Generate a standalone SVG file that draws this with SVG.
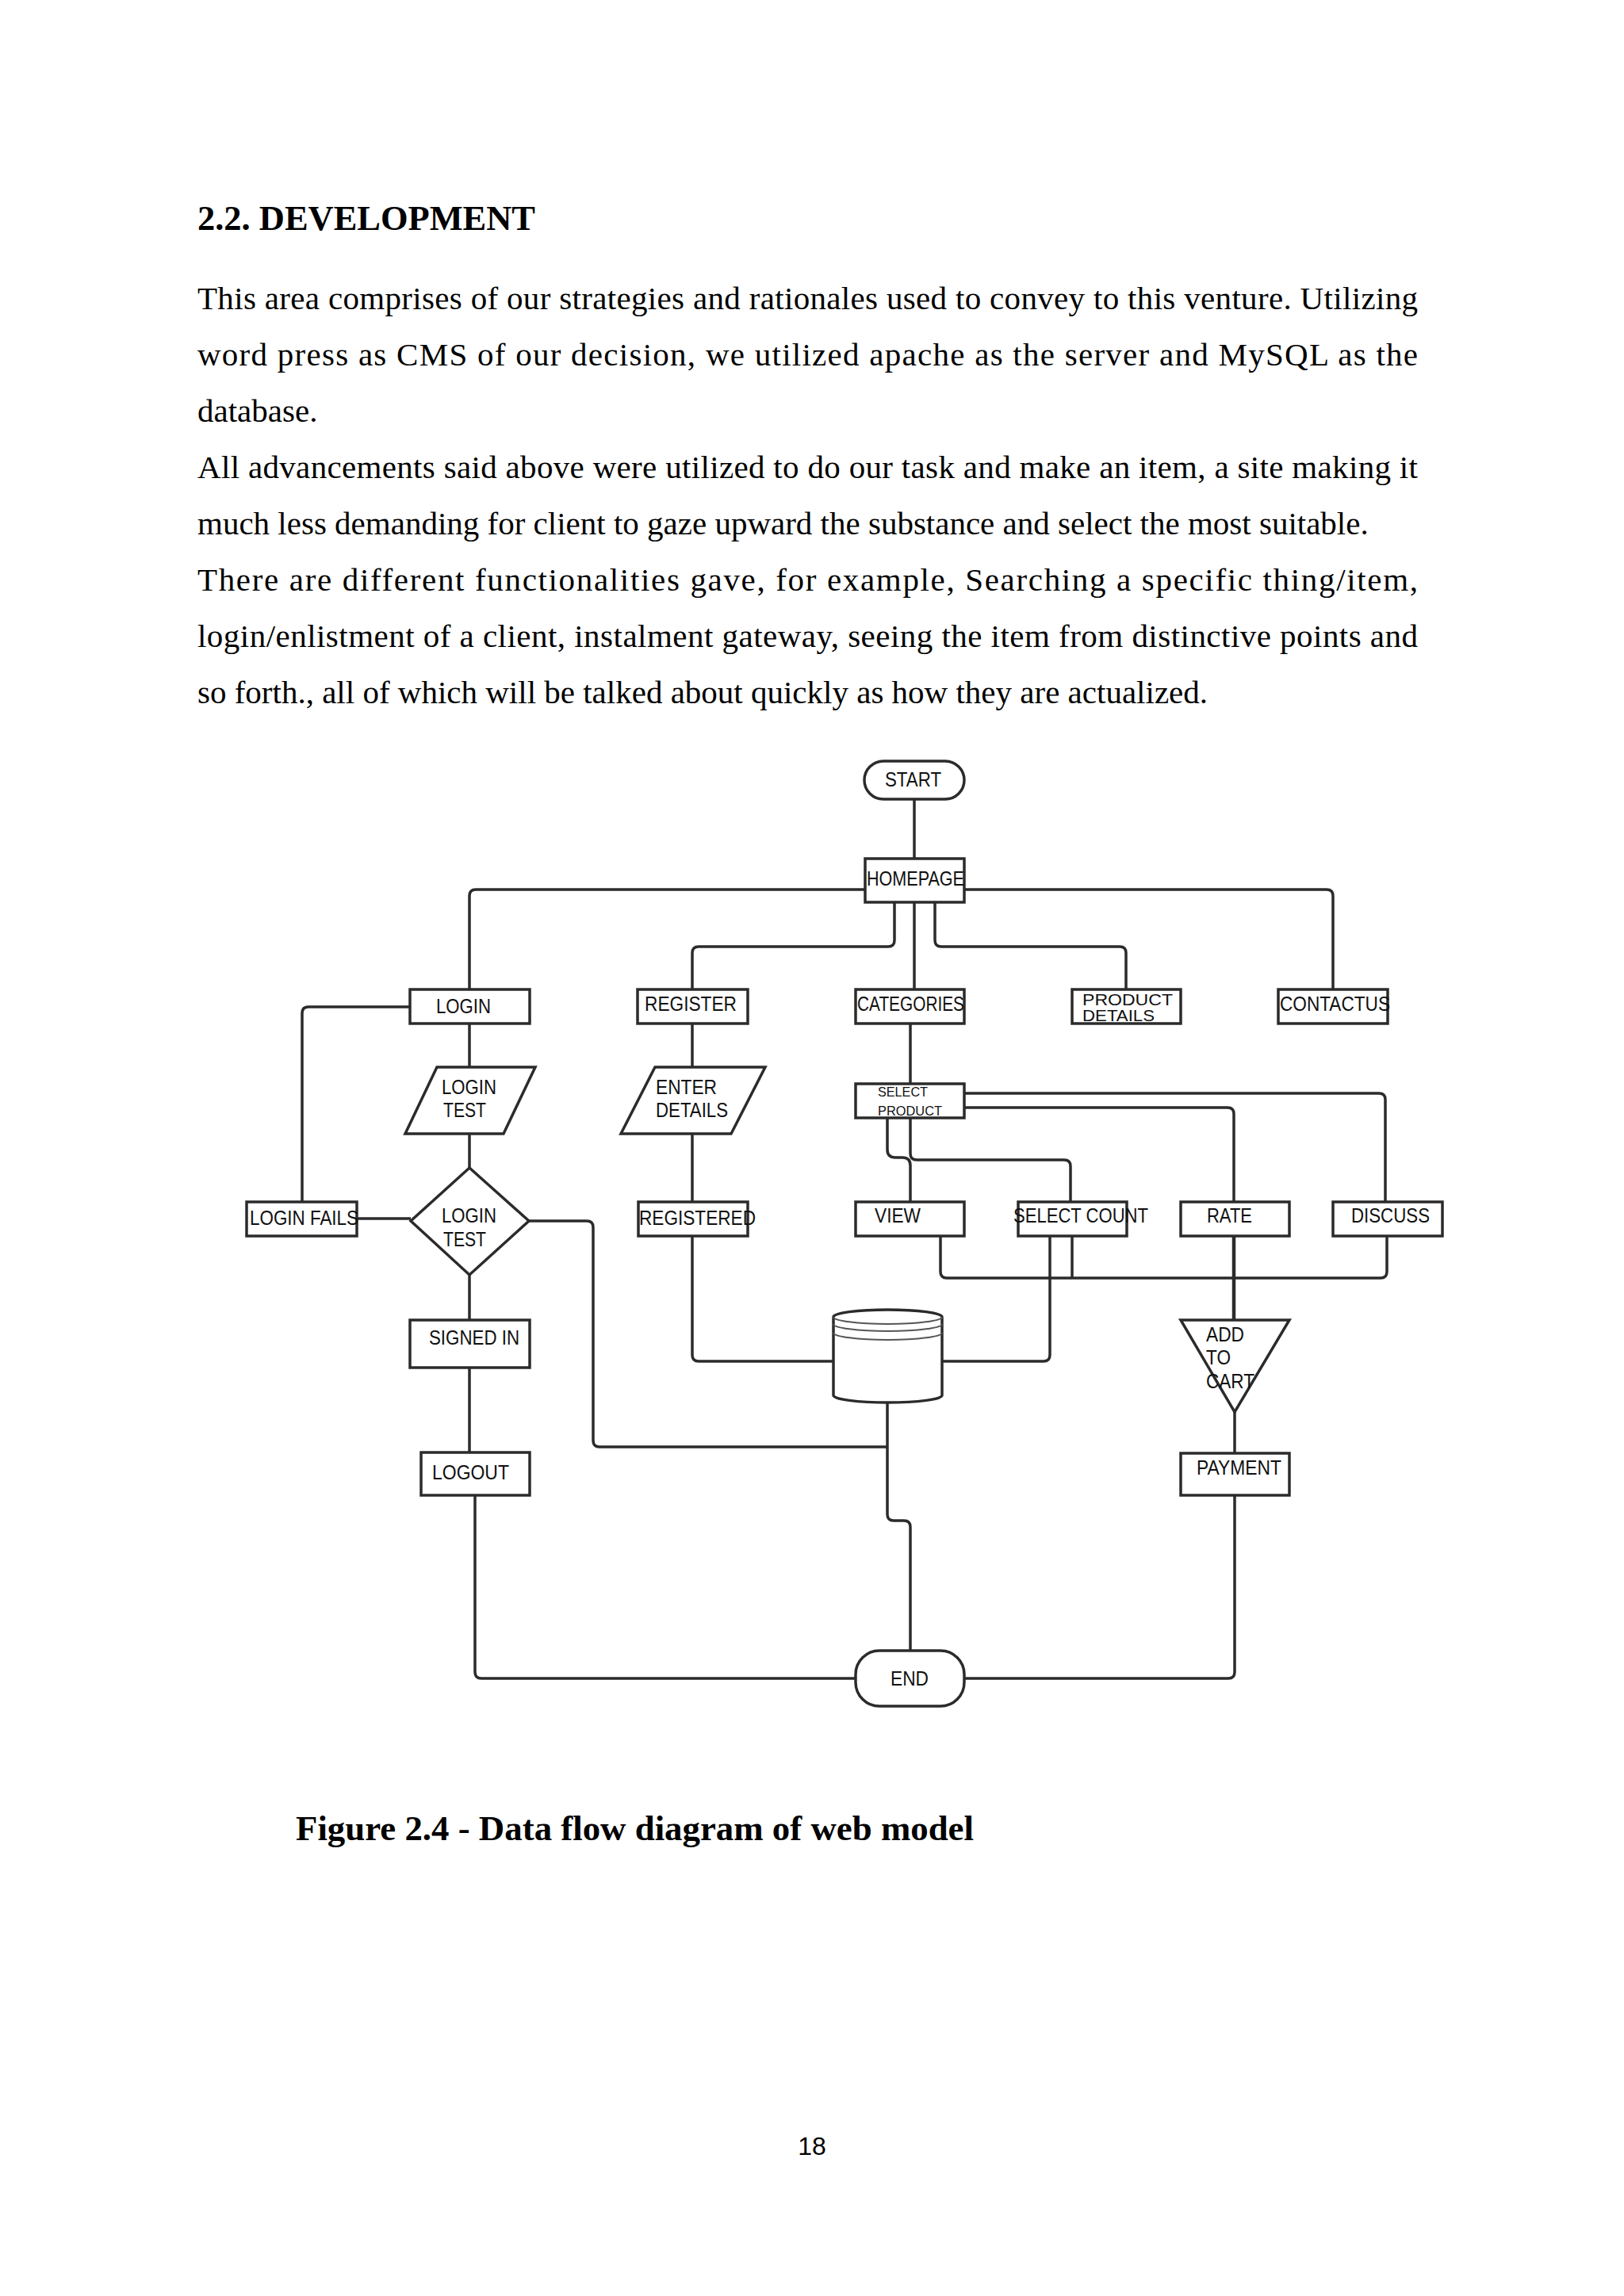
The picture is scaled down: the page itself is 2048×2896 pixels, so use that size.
<svg xmlns="http://www.w3.org/2000/svg" width="2048" height="2896" viewBox="0 0 2048 2896">
<style>
.body{font-family:"Liberation Serif","Times New Roman",serif;font-size:41px;fill:#000}
.head{font-family:"Liberation Serif","Times New Roman",serif;font-size:44.6px;font-weight:bold;fill:#000}
.pg{font-family:"Liberation Sans",Arial,sans-serif;font-size:32px;fill:#000}
.lbl{font-family:"Liberation Sans",Arial,sans-serif;font-size:25px;fill:#111}
.sm{font-family:"Liberation Sans",Arial,sans-serif;font-size:21px;fill:#111}
.xs{font-family:"Liberation Sans",Arial,sans-serif;font-size:17px;fill:#111}
.shape{fill:#fff;stroke:#2b2b2b;stroke-width:3.5}
.conn path{fill:none;stroke:#2b2b2b;stroke-width:3.5}
.ring{fill:none;stroke:#555;stroke-width:2}
</style>
<rect width="2048" height="2896" fill="#fff"/>
<g id="page-text">
<text class="head" x="249" y="290" textLength="426" lengthAdjust="spacingAndGlyphs">2.2. DEVELOPMENT</text>
<text class="body" x="249" y="389.5" textLength="1539" lengthAdjust="spacing">This area comprises of our strategies and rationales used to convey to this venture. Utilizing</text>
<text class="body" x="249" y="460.6" textLength="1539" lengthAdjust="spacing">word press as CMS of our decision, we utilized apache as the server and MySQL as the</text>
<text class="body" x="249" y="531.7">database.</text>
<text class="body" x="249" y="602.8" textLength="1539" lengthAdjust="spacing">All advancements said above were utilized to do our task and make an item, a site making it</text>
<text class="body" x="249" y="673.9">much less demanding for client to gaze upward the substance and select the most suitable.</text>
<text class="body" x="249" y="745" textLength="1539" lengthAdjust="spacing">There are different functionalities gave, for example, Searching a specific thing/item,</text>
<text class="body" x="249" y="816.1" textLength="1539" lengthAdjust="spacing">login/enlistment of a client, instalment gateway, seeing the item from distinctive points and</text>
<text class="body" x="249" y="887.2">so forth., all of which will be talked about quickly as how they are actualized.</text>
<text class="head" x="373" y="2321" textLength="855" lengthAdjust="spacingAndGlyphs">Figure 2.4 - Data flow diagram of web model</text>
<text class="pg" x="1024" y="2718" text-anchor="middle">18</text>
</g>
<g id="connectors" class="conn">
<path d="M1153,1008 V1083"/>
<path d="M1091,1122 H600 Q592,1122 592,1130 V1248"/>
<path d="M1216,1122 H1673 Q1681,1122 1681,1130 V1248"/>
<path d="M1128,1138 V1186 Q1128,1194 1120,1194 H881 Q873,1194 873,1202 V1248"/>
<path d="M1153,1138 V1248"/>
<path d="M1179,1138 V1186 Q1179,1194 1187,1194 H1412 Q1420,1194 1420,1202 V1248"/>
<path d="M592,1291 V1346"/>
<path d="M517,1270 H389 Q381,1270 381,1278 V1516"/>
<path d="M592,1430 V1473"/>
<path d="M518,1537 H450"/>
<path d="M592,1608 V1665"/>
<path d="M667,1540 H740 Q748,1540 748,1548 V1817 Q748,1825 756,1825 H1119"/>
<path d="M592,1725 V1832"/>
<path d="M599,1886 V2109 Q599,2117 607,2117 H1079"/>
<path d="M873,1291 V1346"/>
<path d="M873,1430 V1516"/>
<path d="M873,1559 V1709 Q873,1717 881,1717 H1051"/>
<path d="M1188,1717 H1316 Q1324,1717 1324,1709 V1559"/>
<path d="M1119,1769 V1910 Q1119,1918 1127,1918 H1140 Q1148,1918 1148,1926 V2082"/>
<path d="M1148,1291 V1367"/>
<path d="M1216,1379 H1739 Q1747,1379 1747,1387 V1516"/>
<path d="M1216,1397 H1548 Q1556,1397 1556,1405 V1516"/>
<path d="M1119,1410 V1450 Q1119,1460 1129,1460 H1138 Q1148,1460 1148,1470 V1516"/>
<path d="M1148,1410 V1455 Q1148,1463 1156,1463 H1342 Q1350,1463 1350,1471 V1516"/>
<path d="M1186,1559 V1604 Q1186,1612 1194,1612 H1556"/>
<path d="M1352,1559 V1612"/>
<path d="M1749,1559 V1604 Q1749,1612 1741,1612 H1556"/>
<path d="M1556,1559 V1665" style="stroke-width:4.5"/>
<path d="M1557,1781 V1833"/>
<path d="M1557,1886 V2109 Q1557,2117 1549,2117 H1216"/>
</g>
<g id="start"><rect class="shape" x="1090" y="960" width="126" height="48" rx="24"/><text class="lbl" x="1116" y="992" textLength="71" lengthAdjust="spacingAndGlyphs">START</text></g>
<g id="homepage"><rect class="shape" x="1091" y="1083" width="125" height="55"/><text class="lbl" x="1093" y="1117" textLength="123" lengthAdjust="spacingAndGlyphs">HOMEPAGE</text></g>
<g id="login"><rect class="shape" x="517" y="1248" width="151" height="43"/><text class="lbl" x="550" y="1278" textLength="69" lengthAdjust="spacingAndGlyphs">LOGIN</text></g>
<g id="register"><rect class="shape" x="804" y="1248" width="139" height="43"/><text class="lbl" x="813" y="1275" textLength="116" lengthAdjust="spacingAndGlyphs">REGISTER</text></g>
<g id="categories"><rect class="shape" x="1079" y="1248" width="137" height="43"/><text class="lbl" x="1081" y="1275" textLength="135" lengthAdjust="spacingAndGlyphs">CATEGORIES</text></g>
<g id="product-details"><rect class="shape" x="1352" y="1248" width="137" height="43"/><text class="sm" x="1365" y="1268" textLength="114" lengthAdjust="spacingAndGlyphs">PRODUCT</text><text class="sm" x="1365" y="1288" textLength="91" lengthAdjust="spacingAndGlyphs">DETAILS</text></g>
<g id="contactus"><rect class="shape" x="1612" y="1248" width="138" height="43"/><text class="lbl" x="1614" y="1275" textLength="139" lengthAdjust="spacingAndGlyphs">CONTACTUS</text></g>
<g id="login-test-input"><polygon class="shape" points="551,1346 675,1346 635,1430 511,1430"/><text class="lbl" x="557" y="1380" textLength="69" lengthAdjust="spacingAndGlyphs">LOGIN</text><text class="lbl" x="559" y="1409" textLength="54" lengthAdjust="spacingAndGlyphs">TEST</text></g>
<g id="enter-details"><polygon class="shape" points="826,1346 965,1346 922,1430 783,1430"/><text class="lbl" x="827" y="1380" textLength="77" lengthAdjust="spacingAndGlyphs">ENTER</text><text class="lbl" x="827" y="1409" textLength="91" lengthAdjust="spacingAndGlyphs">DETAILS</text></g>
<g id="select-product"><rect class="shape" x="1079" y="1367" width="137" height="43"/><text class="xs" x="1107" y="1383" textLength="63" lengthAdjust="spacingAndGlyphs">SELECT</text><text class="xs" x="1107" y="1407" textLength="81" lengthAdjust="spacingAndGlyphs">PRODUCT</text></g>
<g id="login-test-decision"><polygon class="shape" points="592,1473 667,1540 592,1608 518,1540"/><text class="lbl" x="557" y="1542" textLength="69" lengthAdjust="spacingAndGlyphs">LOGIN</text><text class="lbl" x="559" y="1572" textLength="54" lengthAdjust="spacingAndGlyphs">TEST</text></g>
<g id="login-fails"><rect class="shape" x="311" y="1516" width="139" height="43"/><text class="lbl" x="315" y="1545" textLength="137" lengthAdjust="spacingAndGlyphs">LOGIN FAILS</text></g>
<g id="registered"><rect class="shape" x="805" y="1516" width="138" height="43"/><text class="lbl" x="806" y="1545" textLength="147" lengthAdjust="spacingAndGlyphs">REGISTERED</text></g>
<g id="view"><rect class="shape" x="1079" y="1516" width="137" height="43"/><text class="lbl" x="1103" y="1542" textLength="58" lengthAdjust="spacingAndGlyphs">VIEW</text></g>
<g id="select-count"><rect class="shape" x="1284" y="1516" width="137" height="43"/><text class="lbl" x="1278" y="1542" textLength="170" lengthAdjust="spacingAndGlyphs">SELECT COUNT</text></g>
<g id="rate"><rect class="shape" x="1489" y="1516" width="137" height="43"/><text class="lbl" x="1522" y="1542" textLength="57" lengthAdjust="spacingAndGlyphs">RATE</text></g>
<g id="discuss"><rect class="shape" x="1681" y="1516" width="138" height="43"/><text class="lbl" x="1704" y="1542" textLength="99" lengthAdjust="spacingAndGlyphs">DISCUSS</text></g>
<g id="database">
<path class="shape" d="M1051,1661 A68.5,9 0 0 1 1188,1661 V1760 A68.5,9 0 0 1 1051,1760 Z"/>
<path class="ring" d="M1051,1661 A68.5,9 0 0 0 1188,1661"/>
<path class="ring" d="M1051,1670 A68.5,9 0 0 0 1188,1670"/>
<path class="ring" d="M1051,1681 A68.5,9 0 0 0 1188,1681"/>
</g>
<g id="add-to-cart"><polygon class="shape" points="1489,1665 1626,1665 1557,1781"/><text class="lbl" x="1521" y="1692" textLength="48" lengthAdjust="spacingAndGlyphs">ADD</text><text class="lbl" x="1521" y="1721" textLength="31" lengthAdjust="spacingAndGlyphs">TO</text><text class="lbl" x="1521" y="1751" textLength="61" lengthAdjust="spacingAndGlyphs">CART</text></g>
<g id="signed-in"><rect class="shape" x="517" y="1665" width="151" height="60"/><text class="lbl" x="541" y="1696" textLength="114" lengthAdjust="spacingAndGlyphs">SIGNED IN</text></g>
<g id="logout"><rect class="shape" x="531" y="1832" width="137" height="54"/><text class="lbl" x="545" y="1866" textLength="97" lengthAdjust="spacingAndGlyphs">LOGOUT</text></g>
<g id="payment"><rect class="shape" x="1489" y="1833" width="137" height="53"/><text class="lbl" x="1509" y="1860" textLength="107" lengthAdjust="spacingAndGlyphs">PAYMENT</text></g>
<g id="end"><rect class="shape" x="1079" y="2082" width="137" height="70" rx="30"/><text class="lbl" x="1123" y="2126" textLength="48" lengthAdjust="spacingAndGlyphs">END</text></g>
</svg>
